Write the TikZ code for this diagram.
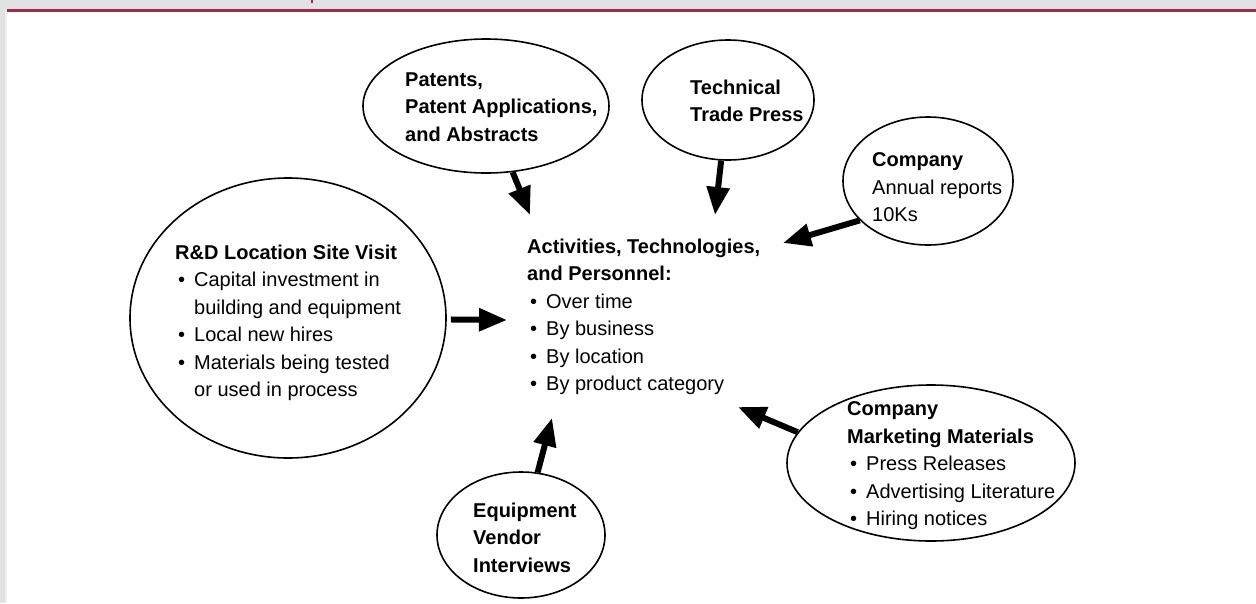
\documentclass[tikz,border=0pt]{standalone}
\usepackage{fontspec}
\setmainfont{Liberation Sans}
\usetikzlibrary{shapes.geometric,arrows.meta}
\definecolor{framegray}{HTML}{E1E2E4}
\definecolor{rulered}{HTML}{9B2D45}
\newcommand{\blt}{\makebox[19pt][l]{\hspace{3pt}\textbullet}}
\newcommand{\hang}{\hspace*{19pt}}
\tikzset{
    bubble/.style={
        ellipse,
        draw=black, line width=1.6pt,
        inner sep=0pt
    },
    blurb/.style={
        align=left,
        anchor=north west,
        inner sep=0pt,
        font=\fontsize{20}{27.5}\selectfont
    },
    feed/.style={line width=6pt, -{Triangle[length=28pt,width=22pt]}}
}
\begin{document}
\begin{tikzpicture}[x=1pt, y=-1pt]
\useasboundingbox (0,0) rectangle (1256,603);
% page frame
\fill[framegray] (0,0) rectangle (1256,9);
\fill[framegray] (0,0) rectangle (5,603);
\fill[framegray!50] (5,9) rectangle (7,603);
\fill[rulered] (7,9) rectangle (1256,12);
\fill[rulered] (311,0) rectangle (313,3);

% the source bubbles
\node[bubble, minimum width=246pt, minimum height=134pt] (pat) at (486,106) {};
\node[bubble, minimum width=172pt, minimum height=120pt] (trd) at (728,100) {};
\node[bubble, minimum width=170pt, minimum height=128pt] (co)  at (928,181) {};
\node[bubble, minimum width=316pt, minimum height=280pt] (rd)  at (288,318) {};
\node[bubble, minimum width=168pt, minimum height=126pt] (eq)  at (521,535) {};
\node[bubble, minimum width=288pt, minimum height=156pt] (mk)  at (931,463) {};

% text tops sit one cap height above the first baseline
\node[blurb] (patTxt) at (405,72.5) {\textbf{Patents,}\\ \textbf{Patent Applications,}\\ \textbf{and Abstracts}};
\node[blurb] (trdTxt) at (690,79.5) {\textbf{Technical}\\ \textbf{Trade Press}};
\node[blurb] (coTxt) at (872,152.5) {\textbf{Company}\\ Annual reports\\ 10Ks};
\node[blurb] (rdTxt) at (175,244.5) {\textbf{R\&D Location Site Visit}\\
    \blt Capital investment in\\ \hang building and equipment\\
    \blt Local new hires\\
    \blt Materials being tested\\ \hang or used in process};
\node[blurb] (eqTxt) at (473,502.5) {\textbf{Equipment}\\ \textbf{Vendor}\\ \textbf{Interviews}};
\node[blurb] (mkTxt) at (847,401.5) {\textbf{Company}\\ \textbf{Marketing Materials}\\
    \blt Press Releases\\ \blt Advertising Literature\\ \blt Hiring notices};

% what they all feed into
\node[blurb] (act) at (527,238.5) {\textbf{Activities, Technologies,}\\ \textbf{and Personnel:}\\
    \blt Over time\\ \blt By business\\ \blt By location\\ \blt By product category};

\coordinate (patTip) at (530,215);
\coordinate (trdTip) at (715,215);
\coordinate (coTip)  at (783,243);
\coordinate (rdTip)  at (507,320);
\coordinate (eqTip)  at (552,418);
\coordinate (mkTip)  at (738,407);

\draw[feed] (pat) -- (patTip);
\draw[feed] (trd) -- (trdTip);
\draw[feed] (co.210) -- (coTip);
\draw[feed, shorten <=4pt] (rd) -- (rdTip);
\draw[feed] (eq) -- (eqTip);
\draw[feed] (mk.167) -- (mkTip);
\end{tikzpicture}
\end{document}
